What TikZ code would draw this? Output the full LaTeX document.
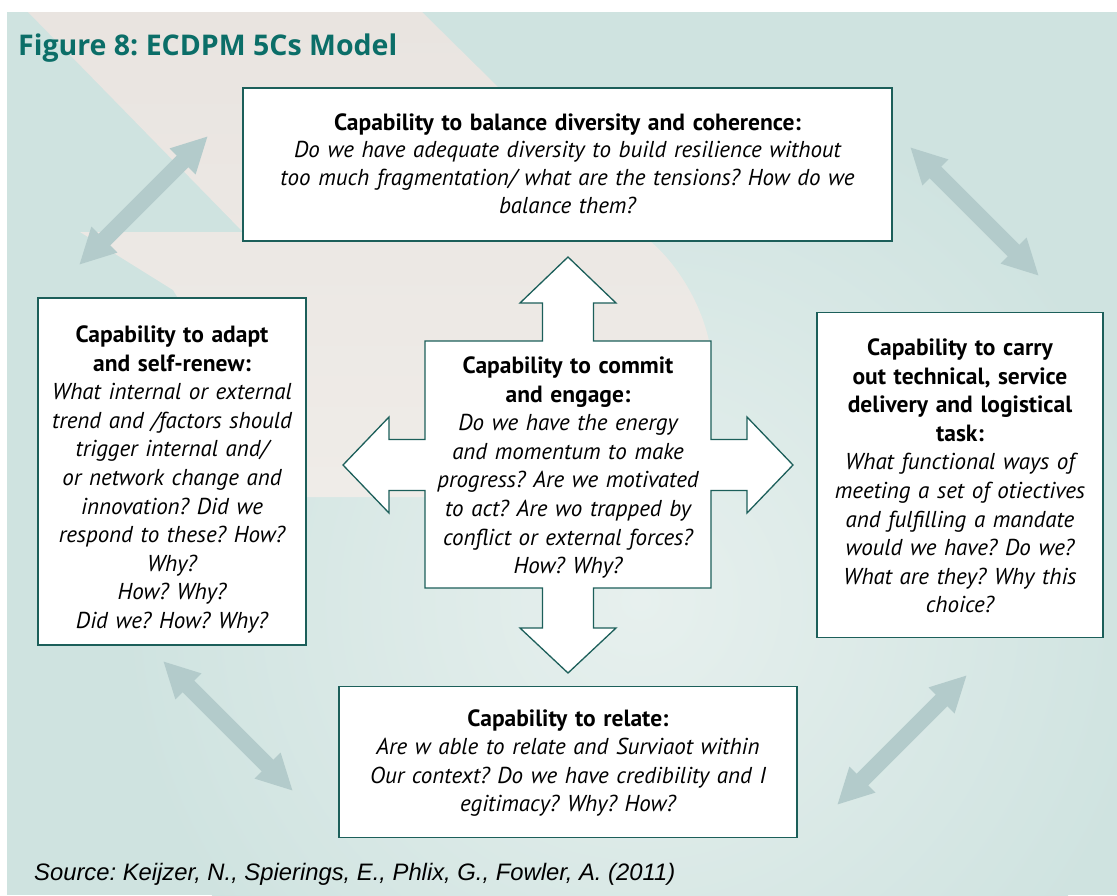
\documentclass[tikz,border=0pt]{standalone}
\usepackage{fontspec}
\setmainfont{PT Sans}
\newfontfamily\titlefont{Open Sans}
\newfontfamily\srcfont{Liberation Sans}
\usetikzlibrary{arrows.meta}
\frenchspacing
\definecolor{bgteal}{HTML}{CFE3E0}
\definecolor{bglight}{HTML}{E7F0EE}
\definecolor{beigetop}{HTML}{E9E4E0}
\definecolor{beigebot}{HTML}{EFECE8}
\definecolor{arrowgrey}{HTML}{B3CBCB}
\definecolor{boxline}{HTML}{1C5F5A}
\definecolor{titleteal}{HTML}{0B6E68}
\newcommand\caphead[1]{{\fontsize{23.5}{28.6}\selectfont\bfseries #1}}
\begin{document}
\begin{tikzpicture}[x=1pt,y=-1pt,
  capbox/.style={draw=boxline, line width=1.3pt, fill=white, inner sep=0pt},
  captext/.style={align=center, inner sep=0pt, font=\fontsize{23}{28.6}\selectfont\frenchspacing},
  bgarrow/.style={draw=arrowgrey, line width=16.5pt,
    {Triangle[width=34pt,length=36pt]}-{Triangle[width=34pt,length=36pt]}},
  crossline/.style={fill=white, draw=boxline, line width=1.3pt, line join=miter},
]
\useasboundingbox (0,0) rectangle (1117,895);
% background
\fill[white] (0,0) rectangle (1117,895);
\begin{scope}
  \clip (7,12) rectangle (1117,895);
  \fill[bgteal] (7,12) rectangle (1117,895);
  \shade[inner color=bglight, outer color=bgteal] (640,600) circle (520);
  \shade[top color=beigetop, bottom color=beigebot]
    (28,12) -- (422,12) -- (497,86) -- (650,241)
    .. controls (675,262) and (700,300) .. (709,341)
    -- (700,497) -- (300,497) -- (173,290) -- (80,232) -- (243,232) -- cycle;
\end{scope}
% title
\node[anchor=base west, inner sep=0pt, text=titleteal,
  font=\titlefont\bfseries\fontsize{28.5}{30}\selectfont] (title) at (18,55)
  {Figure 8: ECDPM 5Cs Model};
% decorative double arrows
\coordinate (a1s) at (79,265);  \coordinate (a1e) at (208,136);
\coordinate (a2s) at (910,147); \coordinate (a2e) at (1039,276);
\coordinate (a3s) at (163,661); \coordinate (a3e) at (293,791);
\coordinate (a4s) at (967,675); \coordinate (a4e) at (837,805);
\draw[bgarrow] (a1s) -- (a1e);
\draw[bgarrow] (a2s) -- (a2e);
\draw[bgarrow] (a3s) -- (a3e);
\draw[bgarrow] (a4s) -- (a4e);
% boxes
\node[capbox, minimum width=649pt, minimum height=153pt] (balance) at (567.5,164.5) {};
\node[captext, text width=640pt, font=\fontsize{23}{27.8}\selectfont\frenchspacing] (balancetext) at ([yshift=1pt]balance.center)
  {\caphead{Capability to balance diversity and coherence:}\\
   \itshape Do we have adequate diversity to build resilience without\\
   too much fragmentation/ what are the tensions? How do we\\
   balance them?};
\node[capbox, minimum width=268pt, minimum height=347pt] (adapt) at (172,471.5) {};
\node[captext, text width=262pt] (adapttext) at ([yshift=-8pt]adapt.center)
  {\caphead{Capability to adapt}\\ \caphead{and self-renew:}\\
   \itshape What internal or external\\ trend and /factors should\\
   trigger internal and/\\ or network change and\\ innovation? Did we\\
   respond to these? How?\\ Why?\\ How? Why?\\ Did we? How? Why?};
\node[capbox, minimum width=286pt, minimum height=325pt] (carry) at (960,475) {};
\node[captext, text width=280pt] (carrytext) at ([yshift=-1pt]carry.center)
  {\caphead{Capability to carry}\\ \caphead{out technical, service}\\
   \caphead{delivery and logistical}\\ \caphead{task:}\\
   \itshape What functional ways of\\ meeting a set of otiectives\\
   and fulfilling a mandate\\ would we have? Do we?\\ What are they? Why this\\ choice?};
\node[capbox, minimum width=458pt, minimum height=151pt] (relate) at (568,762) {};
\node[captext, text width=450pt] (relatetext) at ([yshift=-1pt]relate.center)
  {\caphead{Capability to relate:}\\
   \itshape Are w able to relate and Surviaot within\\
   Our context? Do we have credibility and I\\ egitimacy? Why? How?};
% central cross
\filldraw[crossline]
  (425,341) -- (542.5,341) -- (542.5,303) -- (520,303) -- (568,257) -- (616,303)
  -- (593.5,303) -- (593.5,341) -- (711,341) -- (711,439.5) -- (747,439.5)
  -- (747,417) -- (793,465) -- (747,513) -- (747,490.5) -- (711,490.5)
  -- (711,588) -- (593.5,588) -- (593.5,628) -- (616,628) -- (568,673)
  -- (520,628) -- (542.5,628) -- (542.5,588) -- (425,588) -- (425,490.5)
  -- (389,490.5) -- (389,513) -- (343,465) -- (389,417) -- (389,439.5)
  -- (425,439.5) -- cycle;
\node[captext, text width=284pt] (commit) at (568,467.5)
  {\caphead{Capability to commit}\\ \caphead{and engage:}\\
   \itshape Do we have the energy\\ and momentum to make\\
   progress? Are we motivated\\ to act? Are wo trapped by\\
   conflict or external forces?\\ How? Why?};
% source
\node[anchor=base west, inner sep=0pt,
  font=\srcfont\itshape\fontsize{23.8}{26}\selectfont] (source) at (34,880)
  {Source: Keijzer, N., Spierings, E., Phlix, G., Fowler, A. (2011)};
\end{tikzpicture}
\end{document}
